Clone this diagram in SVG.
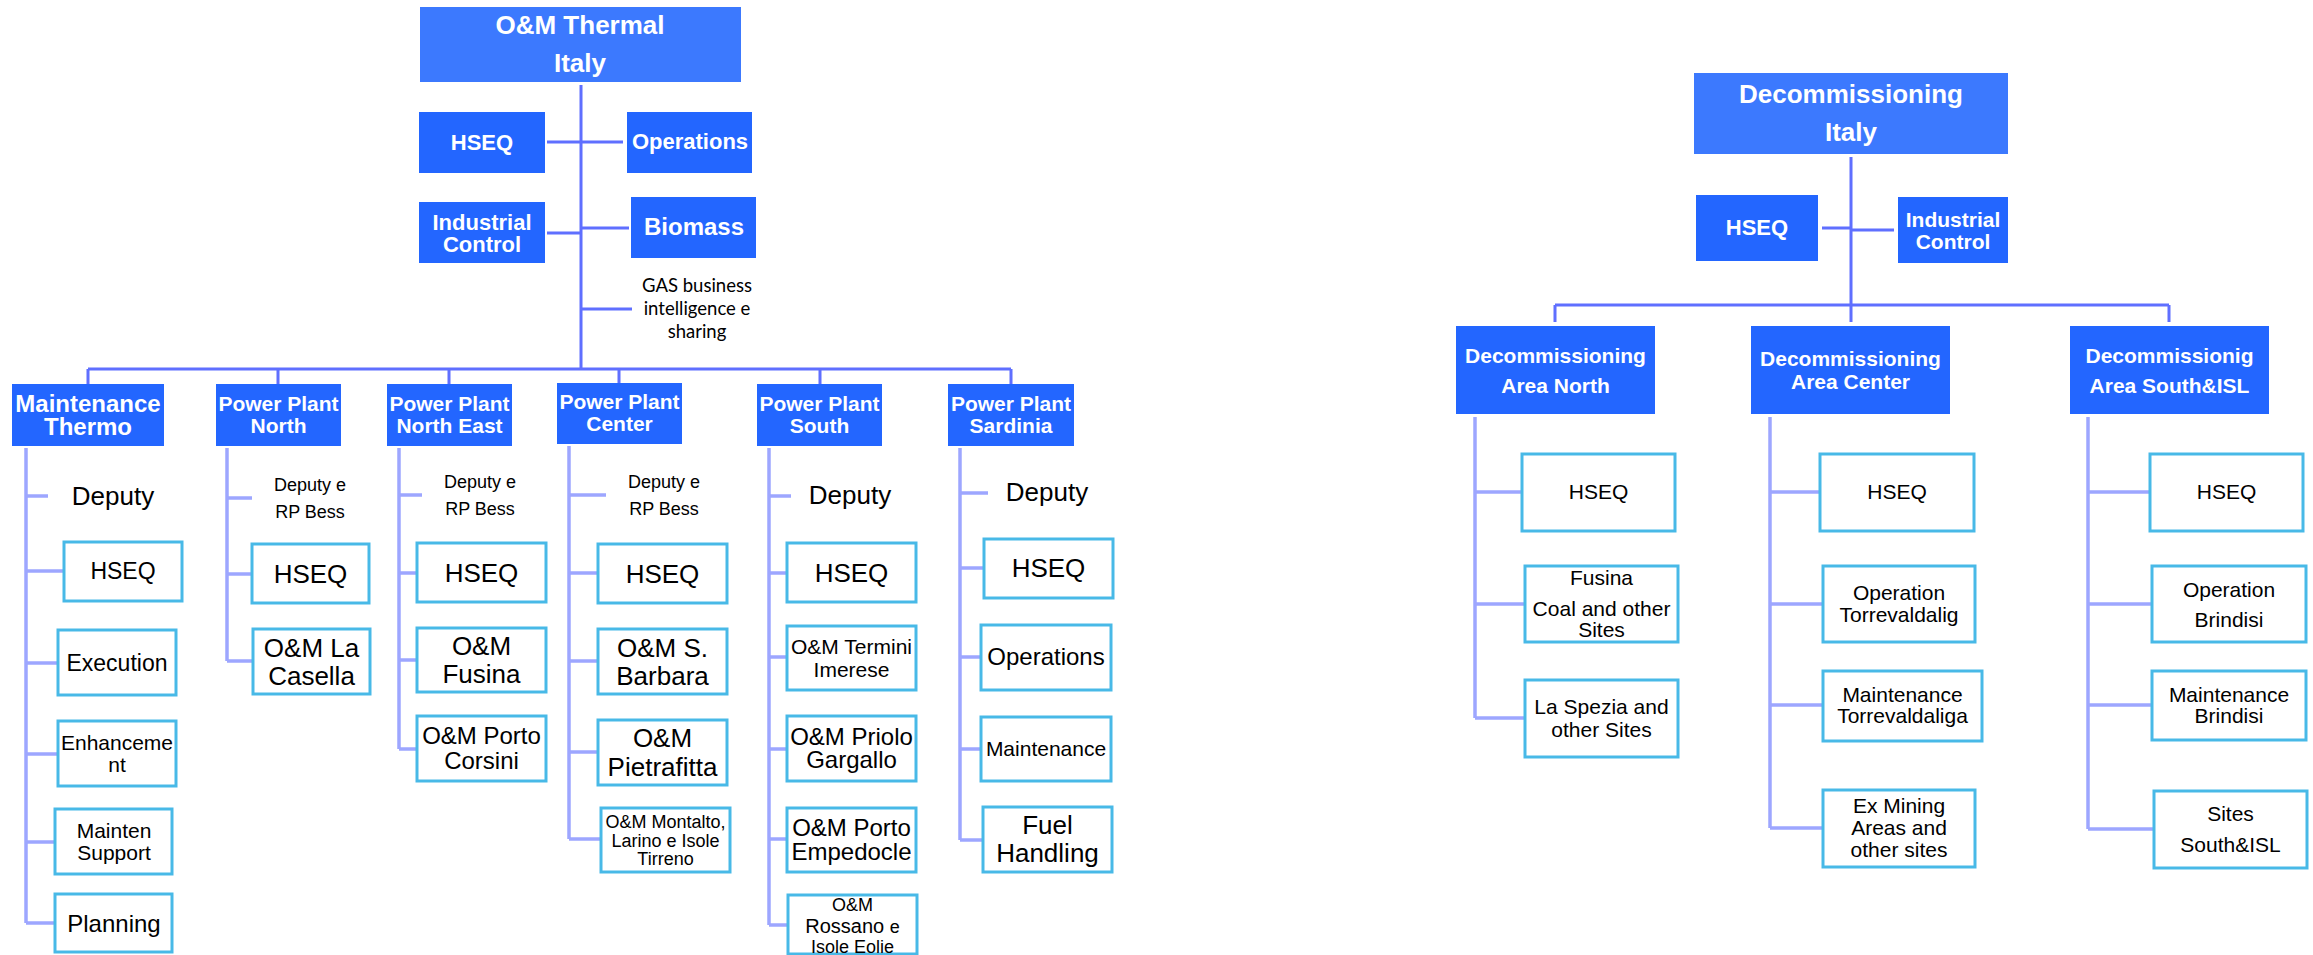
<svg xmlns="http://www.w3.org/2000/svg" width="2313" height="955" viewBox="0 0 2313 955">
<style>
.top{fill:#3C79FE}
.blu{fill:#2366FF}
.ch{fill:#ffffff;stroke:#48B9E7;stroke-width:3}
.wt{font-family:"Liberation Sans",Arial,sans-serif;font-weight:bold;fill:#ffffff;text-anchor:middle}
.bk{font-family:"Liberation Sans",Arial,sans-serif;fill:#000000;text-anchor:middle}
.gas{font-family:Lato,"Liberation Sans",sans-serif;fill:#000000;text-anchor:middle;font-size:18.5px}
.c1{stroke:#5F6FFF;stroke-width:3;fill:none}
.c2{stroke:#9DA6FF;stroke-width:3.5;fill:none}
</style>
<rect width="2313" height="955" fill="#ffffff"/>
<g id="connectors">
<path class="c1" d="M581 85V369M547 142H623M547 233H581M581 228H629M581 309H632M88 369H1011M88 369V384M278 369V384M449 369V384M619 369V383M820 369V384M1011 369V384"/>
<path class="c2" d="M26 448V923M26 496H48M26 571H64M26 663H58M26 754H58M26 842H55M26 923H55"/>
<path class="c2" d="M227 448V661M227 498H252M227 574H252M227 661H253"/>
<path class="c2" d="M399 448V749M399 495H422M399 573H417M399 660H417M399 749H417"/>
<path class="c2" d="M569 446V839M569 495H606M569 573H598M569 661H598M569 752H598M569 839H601"/>
<path class="c2" d="M769 448V925M769 496H791M769 573H787M769 657H787M769 749H787M769 839H787M769 925H788"/>
<path class="c2" d="M960 448V840M960 493H988M960 568H984M960 657H981M960 749H981M960 840H983"/>
<path class="c1" d="M1851 157V322M1822 228H1851M1851 230H1894M1555 305H2169M1555 305V322M2169 305V322"/>
<path class="c2" d="M1475 417V718M1475 492H1522M1475 604H1525M1475 718H1525"/>
<path class="c2" d="M1770 417V828M1770 492H1820M1770 604H1823M1770 705H1823M1770 828H1823"/>
<path class="c2" d="M2088 417V829M2088 492H2150M2088 604H2152M2088 705H2152M2088 829H2154"/>
</g>
<g id="om-thermal"><rect class="top" x="420" y="7" width="321" height="75"/><text class="wt" font-size="26" x="580" y="34">O&amp;M Thermal</text><text class="wt" font-size="26" x="580" y="72">Italy</text></g>
<g id="hseq-top"><rect class="blu" x="419" y="112" width="126" height="61"/><text class="wt" font-size="22" x="482" y="150">HSEQ</text></g>
<g id="operations-top"><rect class="blu" x="627" y="112" width="125" height="61"/><text class="wt" font-size="22" x="690" y="149">Operations</text></g>
<g id="indctrl-top"><rect class="blu" x="419" y="202" width="126" height="61"/><text class="wt" font-size="22" x="482" y="230">Industrial</text><text class="wt" font-size="22" x="482" y="252">Control</text></g>
<g id="biomass"><rect class="blu" x="631" y="197" width="125" height="61"/><text class="wt" font-size="24" x="694" y="235">Biomass</text></g>
<g id="gas"><text class="gas" x="697" y="292">GAS business</text><text class="gas" x="697" y="315">intelligence e</text><text class="gas" x="697" y="338">sharing</text></g>

<g id="maint-thermo"><rect class="blu" x="12" y="384" width="152" height="62"/><text class="wt" font-size="24" x="88" y="412">Maintenance</text><text class="wt" font-size="24" x="88" y="435">Thermo</text></g>
<g id="pp-north"><rect class="blu" x="216" y="384" width="125" height="62"/><text class="wt" font-size="21" x="278.5" y="411">Power Plant</text><text class="wt" font-size="21" x="278.5" y="433">North</text></g>
<g id="pp-northeast"><rect class="blu" x="387" y="384" width="125" height="62"/><text class="wt" font-size="21" x="449.5" y="411">Power Plant</text><text class="wt" font-size="21" x="449.5" y="433">North East</text></g>
<g id="pp-center"><rect class="blu" x="557" y="383" width="125" height="61"/><text class="wt" font-size="21" x="619.5" y="409">Power Plant</text><text class="wt" font-size="21" x="619.5" y="431">Center</text></g>
<g id="pp-south"><rect class="blu" x="757" y="384" width="125" height="62"/><text class="wt" font-size="21" x="819.5" y="411">Power Plant</text><text class="wt" font-size="21" x="819.5" y="433">South</text></g>
<g id="pp-sardinia"><rect class="blu" x="948" y="384" width="126" height="62"/><text class="wt" font-size="21" x="1011" y="411">Power Plant</text><text class="wt" font-size="21" x="1011" y="433">Sardinia</text></g>

<g id="mt-deputy"><text class="bk" font-size="26" x="113" y="505">Deputy</text></g>
<g id="mt-hseq"><rect class="ch" x="64" y="542" width="118" height="59"/><text class="bk" font-size="23" x="123" y="579">HSEQ</text></g>
<g id="mt-execution"><rect class="ch" x="58" y="630" width="118" height="65"/><text class="bk" font-size="23" x="117" y="671">Execution</text></g>
<g id="mt-enhancement"><rect class="ch" x="58" y="721" width="118" height="65"/><text class="bk" font-size="21" x="117" y="750">Enhanceme</text><text class="bk" font-size="21" x="117" y="772">nt</text></g>
<g id="mt-support"><rect class="ch" x="55" y="809" width="117" height="65"/><text class="bk" font-size="21" x="114" y="838">Mainten</text><text class="bk" font-size="21" x="114" y="860">Support</text></g>
<g id="mt-planning"><rect class="ch" x="55" y="894" width="117" height="58"/><text class="bk" font-size="24" x="114" y="932">Planning</text></g>

<g id="ppn-deputy"><text class="bk" font-size="18" x="310" y="491">Deputy e</text><text class="bk" font-size="18" x="310" y="518">RP Bess</text></g>
<g id="ppn-hseq"><rect class="ch" x="252" y="544" width="117" height="59"/><text class="bk" font-size="26" x="310.5" y="583">HSEQ</text></g>
<g id="ppn-casella"><rect class="ch" x="253" y="629" width="117" height="65"/><text class="bk" font-size="26" x="311.5" y="657">O&amp;M La</text><text class="bk" font-size="26" x="311.5" y="685">Casella</text></g>

<g id="ppne-deputy"><text class="bk" font-size="18" x="480" y="488">Deputy e</text><text class="bk" font-size="18" x="480" y="515">RP Bess</text></g>
<g id="ppne-hseq"><rect class="ch" x="417" y="543" width="129" height="59"/><text class="bk" font-size="26" x="481.5" y="582">HSEQ</text></g>
<g id="ppne-fusina"><rect class="ch" x="417" y="628" width="129" height="64"/><text class="bk" font-size="26" x="481.5" y="655">O&amp;M</text><text class="bk" font-size="26" x="481.5" y="683">Fusina</text></g>
<g id="ppne-corsini"><rect class="ch" x="417" y="716" width="129" height="65"/><text class="bk" font-size="24" x="481.5" y="744">O&amp;M Porto</text><text class="bk" font-size="24" x="481.5" y="769">Corsini</text></g>

<g id="ppc-deputy"><text class="bk" font-size="18" x="664" y="488">Deputy e</text><text class="bk" font-size="18" x="664" y="515">RP Bess</text></g>
<g id="ppc-hseq"><rect class="ch" x="598" y="544" width="129" height="59"/><text class="bk" font-size="26" x="662.5" y="583">HSEQ</text></g>
<g id="ppc-barbara"><rect class="ch" x="598" y="629" width="129" height="65"/><text class="bk" font-size="26" x="662.5" y="657">O&amp;M S.</text><text class="bk" font-size="26" x="662.5" y="685">Barbara</text></g>
<g id="ppc-pietrafitta"><rect class="ch" x="598" y="720" width="129" height="65"/><text class="bk" font-size="26" x="662.5" y="747">O&amp;M</text><text class="bk" font-size="26" x="662.5" y="776">Pietrafitta</text></g>
<g id="ppc-montalto"><rect class="ch" x="601" y="808" width="129" height="64"/><text class="bk" font-size="18" x="665.5" y="828">O&amp;M Montalto,</text><text class="bk" font-size="18" x="665.5" y="847">Larino e Isole</text><text class="bk" font-size="18" x="665.5" y="865">Tirreno</text></g>

<g id="pps-deputy"><text class="bk" font-size="26" x="850" y="504">Deputy</text></g>
<g id="pps-hseq"><rect class="ch" x="787" y="543" width="129" height="59"/><text class="bk" font-size="26" x="851.5" y="582">HSEQ</text></g>
<g id="pps-termini"><rect class="ch" x="787" y="626" width="129" height="64"/><text class="bk" font-size="21" x="851.5" y="654">O&amp;M Termini</text><text class="bk" font-size="21" x="851.5" y="677">Imerese</text></g>
<g id="pps-priolo"><rect class="ch" x="787" y="716" width="129" height="65"/><text class="bk" font-size="24" x="851.5" y="745">O&amp;M Priolo</text><text class="bk" font-size="24" x="851.5" y="768">Gargallo</text></g>
<g id="pps-empedocle"><rect class="ch" x="787" y="808" width="129" height="64"/><text class="bk" font-size="24" x="851.5" y="836">O&amp;M Porto</text><text class="bk" font-size="24" x="851.5" y="860">Empedocle</text></g>
<g id="pps-rossano"><rect class="ch" x="788" y="895" width="129" height="59"/><text class="bk" font-size="18" x="852.5" y="911">O&amp;M</text><text class="bk" font-size="20" x="852.5" y="933">Rossano <tspan font-size="18">e</tspan></text><text class="bk" font-size="18" x="852.5" y="953">Isole Eolie</text></g>

<g id="ppsa-deputy"><text class="bk" font-size="26" x="1047" y="501">Deputy</text></g>
<g id="ppsa-hseq"><rect class="ch" x="984" y="539" width="129" height="59"/><text class="bk" font-size="26" x="1048.5" y="577">HSEQ</text></g>
<g id="ppsa-operations"><rect class="ch" x="981" y="625" width="130" height="65"/><text class="bk" font-size="24" x="1046" y="665">Operations</text></g>
<g id="ppsa-maintenance"><rect class="ch" x="981" y="717" width="130" height="64"/><text class="bk" font-size="21" x="1046" y="756">Maintenance</text></g>
<g id="ppsa-fuel"><rect class="ch" x="983" y="807" width="129" height="65"/><text class="bk" font-size="26" x="1047.5" y="834">Fuel</text><text class="bk" font-size="26" x="1047.5" y="862">Handling</text></g>

<g id="decomm-italy"><rect class="top" x="1694" y="73" width="314" height="81"/><text class="wt" font-size="26" x="1851" y="103">Decommissioning</text><text class="wt" font-size="26" x="1851" y="141">Italy</text></g>
<g id="d-hseq"><rect class="blu" x="1696" y="195" width="122" height="66"/><text class="wt" font-size="22" x="1757" y="235">HSEQ</text></g>
<g id="d-indctrl"><rect class="blu" x="1898" y="197" width="110" height="66"/><text class="wt" font-size="21" x="1953" y="227">Industrial</text><text class="wt" font-size="21" x="1953" y="249">Control</text></g>
<g id="d-north"><rect class="blu" x="1456" y="326" width="199" height="88"/><text class="wt" font-size="21" x="1555.5" y="363">Decommissioning</text><text class="wt" font-size="21" x="1555.5" y="393">Area North</text></g>
<g id="d-center"><rect class="blu" x="1751" y="326" width="199" height="88"/><text class="wt" font-size="21" x="1850.5" y="366">Decommissioning</text><text class="wt" font-size="21" x="1850.5" y="389">Area Center</text></g>
<g id="d-south"><rect class="blu" x="2070" y="326" width="199" height="88"/><text class="wt" font-size="21" x="2169.5" y="363">Decommissionig</text><text class="wt" font-size="21" x="2169.5" y="393">Area South&amp;ISL</text></g>

<g id="dn-hseq"><rect class="ch" x="1522" y="454" width="153" height="77"/><text class="bk" font-size="21" x="1598.5" y="499">HSEQ</text></g>
<g id="dn-fusina"><rect class="ch" x="1525" y="566" width="153" height="76"/><text class="bk" font-size="21" x="1601.5" y="585">Fusina</text><text class="bk" font-size="21" x="1601.5" y="616">Coal and other</text><text class="bk" font-size="21" x="1601.5" y="637">Sites</text></g>
<g id="dn-laspezia"><rect class="ch" x="1525" y="680" width="153" height="77"/><text class="bk" font-size="21" x="1601.5" y="714">La Spezia and</text><text class="bk" font-size="21" x="1601.5" y="737">other Sites</text></g>

<g id="dc-hseq"><rect class="ch" x="1820" y="454" width="154" height="77"/><text class="bk" font-size="21" x="1897" y="499">HSEQ</text></g>
<g id="dc-operation"><rect class="ch" x="1823" y="566" width="152" height="76"/><text class="bk" font-size="21" x="1899" y="600">Operation</text><text class="bk" font-size="21" x="1899" y="622">Torrevaldalig</text></g>
<g id="dc-maintenance"><rect class="ch" x="1823" y="671" width="159" height="70"/><text class="bk" font-size="21" x="1902.5" y="702">Maintenance</text><text class="bk" font-size="21" x="1902.5" y="723">Torrevaldaliga</text></g>
<g id="dc-exmining"><rect class="ch" x="1823" y="790" width="152" height="77"/><text class="bk" font-size="21" x="1899" y="813">Ex Mining</text><text class="bk" font-size="21" x="1899" y="835">Areas and</text><text class="bk" font-size="21" x="1899" y="857">other sites</text></g>

<g id="ds-hseq"><rect class="ch" x="2150" y="454" width="153" height="77"/><text class="bk" font-size="21" x="2226.5" y="499">HSEQ</text></g>
<g id="ds-operation"><rect class="ch" x="2152" y="566" width="154" height="76"/><text class="bk" font-size="21" x="2229" y="597">Operation</text><text class="bk" font-size="21" x="2229" y="627">Brindisi</text></g>
<g id="ds-maintenance"><rect class="ch" x="2152" y="671" width="154" height="69"/><text class="bk" font-size="21" x="2229" y="702">Maintenance</text><text class="bk" font-size="21" x="2229" y="723">Brindisi</text></g>
<g id="ds-sites"><rect class="ch" x="2154" y="791" width="153" height="77"/><text class="bk" font-size="21" x="2230.5" y="821">Sites</text><text class="bk" font-size="21" x="2230.5" y="852">South&amp;ISL</text></g>
</svg>
